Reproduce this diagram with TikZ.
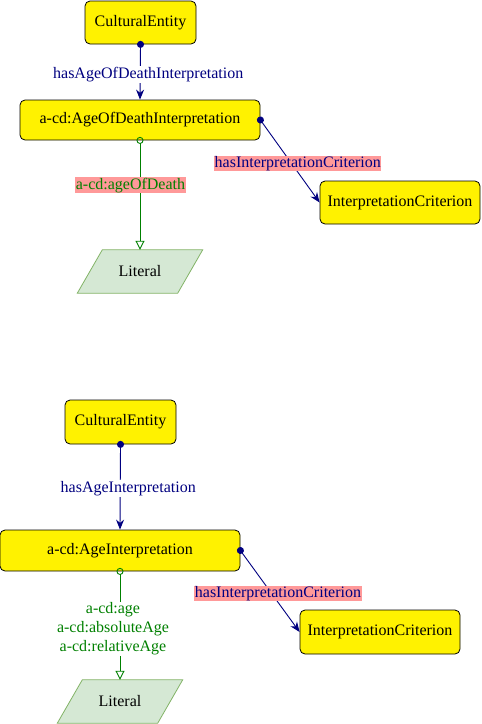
\documentclass[tikz,border=0pt]{standalone}
\usepackage{fontspec}
\setmainfont{Liberation Serif}
\usetikzlibrary{arrows.meta}
\definecolor{navyc}{RGB}{0,0,128}
\definecolor{greenc}{RGB}{0,128,0}
\definecolor{pinkc}{RGB}{255,153,153}
\definecolor{litfill}{RGB}{213,232,212}
\definecolor{litdraw}{RGB}{130,179,102}
\begin{document}
\begin{tikzpicture}[x=1pt,y=-1pt,
  every node/.style={font=\fontsize{16}{19}\selectfont},
  classbox/.style={draw=black,line width=0.8pt,fill=yellow,rounded corners=5pt,inner sep=0pt},
  litbox/.style={inner sep=0pt,minimum width=100pt,minimum height=43pt},
  litshape/.style={draw=litdraw,fill=litfill,line width=0.8pt},
  objprop/.style={draw=navyc,line width=0.9pt,shorten <=-3.5pt,{Circle[length=7pt]}-{Stealth[length=10pt,width=8pt]}},
  dataprop/.style={draw=greenc,line width=0.9pt,shorten <=-3.5pt,{Circle[open,length=7pt]}-{Triangle[open,length=9pt,width=9pt]}},
  bluelbl/.style={text=navyc,fill=white,inner sep=1pt},
  bluepink/.style={text=navyc,fill=pinkc,inner sep=0.5pt},
  greenpink/.style={text=greenc,fill=pinkc,inner sep=0.5pt},
  greenlbl/.style={text=greenc,fill=white,inner sep=1pt,align=center}
]
\useasboundingbox (0,0) rectangle (482,724);

% ---------- top diagram ----------
\node[classbox,minimum width=111pt,minimum height=43pt] (ce1) at (140.5,22.5) {CulturalEntity};
\node[classbox,minimum width=240pt,minimum height=40pt] (aod) at (140,120) {a-cd:AgeOfDeathInterpretation};
\node[classbox,minimum width=160pt,minimum height=43pt] (ic1) at (400,202.5) {InterpretationCriterion};
\node[litbox] (lit1) at (140,271.5) {};
\draw[litshape] ([xshift=12.5pt]lit1.north west) -- ([xshift=12.5pt]lit1.north east)
  -- ([xshift=-12.5pt]lit1.south east) -- ([xshift=-12.5pt]lit1.south west) -- cycle;
\node at (lit1.center) {Literal};

\draw[objprop] (ce1.south) -- node[bluelbl,pos=0.54,xshift=8pt] {hasAgeOfDeathInterpretation} (aod.north);
\draw[dataprop] (aod.south) -- node[greenpink,pos=0.41,xshift=-9.5pt] {a-cd:ageOfDeath} (lit1.north);
\draw[objprop] (aod.east) -- node[bluepink,pos=0.53,xshift=6pt] {hasInterpretationCriterion} (ic1.west);

% ---------- bottom diagram ----------
\node[classbox,minimum width=111pt,minimum height=44pt] (ce2) at (120.5,422) {CulturalEntity};
\node[classbox,minimum width=240pt,minimum height=41pt] (ai) at (120,550.5) {a-cd:AgeInterpretation};
\node[classbox,minimum width=160pt,minimum height=44pt] (ic2) at (380,632) {InterpretationCriterion};
\node[litbox] (lit2) at (120,701.5) {};
\draw[litshape] ([xshift=12.5pt]lit2.north west) -- ([xshift=12.5pt]lit2.north east)
  -- ([xshift=-12.5pt]lit2.south east) -- ([xshift=-12.5pt]lit2.south west) -- cycle;
\node at (lit2.center) {Literal};

\draw[objprop] (ce2.south) -- node[bluelbl,pos=0.52,xshift=8pt] {hasAgeInterpretation} (ai.north);
\draw[dataprop] (ai.south) -- node[greenlbl,pos=0.53,xshift=-7pt] {a-cd:age\\a-cd:absoluteAge\\a-cd:relativeAge} (lit2.north);
\draw[objprop] (ai.east) -- node[bluepink,pos=0.525,xshift=6.5pt] {hasInterpretationCriterion} (ic2.west);
\end{tikzpicture}
\end{document}
